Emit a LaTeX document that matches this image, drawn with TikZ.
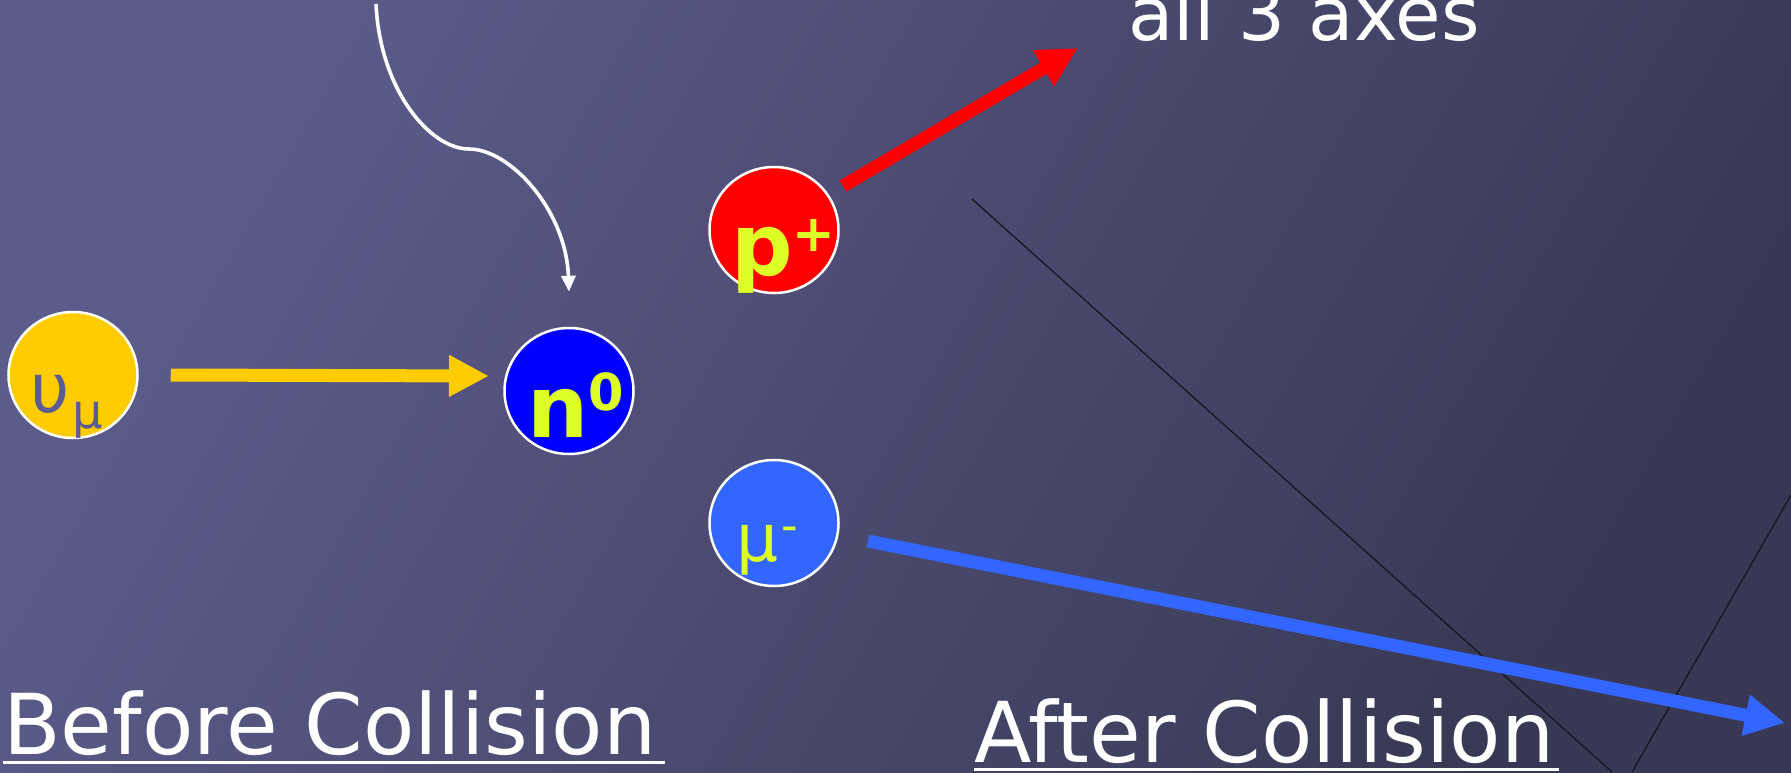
\documentclass[tikz,border=0pt]{standalone}
\usepackage{fontspec}
\setmainfont{DejaVu Sans}
\usetikzlibrary{shapes.geometric, arrows.meta, positioning}
\definecolor{slatebg}{RGB}{92,92,140}
\definecolor{slatedark}{RGB}{56,56,84}
\definecolor{nuyellow}{RGB}{255,204,0}
\definecolor{nblue}{RGB}{0,0,255}
\definecolor{pred}{RGB}{255,0,0}
\definecolor{mublue}{RGB}{51,102,255}
\definecolor{lime}{RGB}{221,255,38}
\definecolor{slatetxt}{RGB}{92,92,148}
\definecolor{latline}{RGB}{22,22,34}
\newcommand{\fsize}[1]{\fontsize{#1}{#1}\selectfont}
\tikzset{
  particle/.style = {ellipse, draw=white, line width=2.5pt,
                     minimum width=129pt, minimum height=126pt, inner sep=0pt},
  tag/.style      = {anchor=base west, inner sep=0pt, text=lime},
  beam/.style     = {line width=13pt, -{Triangle[length=40pt,width=39pt]}},
  caption/.style  = {anchor=base west, inner sep=0pt, text=white, font=\fsize{84}},
  underbar/.style = {draw=white, line width=3pt},
  latline/.style  = {draw=latline, line width=1.3pt},
}

\begin{document}
\begin{tikzpicture}[x=1pt, y=-1pt]

% ---------- backdrop ----------
\useasboundingbox (0,0) rectangle (1791,772);
\shade[top color=slatebg, bottom color=slatedark, shading angle=60] (0,0) rectangle (1791,772);
\draw[latline] (972,199) -- (1612,772);
\draw[latline] (1791,495) -- (1632,772);

% ---------- particles ----------
\node[particle, fill=nuyellow] (numu)    at (73,375)  {};
\node[particle, fill=nblue]    (nzero)   at (569,391) {};
\node[particle, fill=pred]     (pplus)   at (774,230) {};
\node[particle, fill=mublue]   (muminus) at (774,523) {};

\node[tag, text=slatetxt] (numutxt) at ([shift={(-43,37)}]numu.center)
  {\fsize{68}υ\kern3pt\raisebox{-16pt}{\fsize{48}μ}};
\node[tag] (nzerotxt) at ([shift={(-42,46)}]nzero.center)
  {\fsize{86}\bfseries n\raisebox{27pt}{\fsize{51}0}};
\node[tag] (pplustxt) at ([shift={(-43,45)}]pplus.center)
  {\fsize{86}\bfseries p\raisebox{24pt}{\fsize{51}+}};
\node[tag] (muminustxt) at ([shift={(-38,38)}]muminus.center)
  {\fsize{66}μ\kern3pt\raisebox{20pt}{\fsize{46}-}};

% ---------- captions ----------
\node[caption] (before) at (3,754) {Before Collision};
\node[caption] (after) at (974,762) {After Collision};
\node[caption, font=\fsize{74}] (axes) at (1128,40) {all 3 axes};
\draw[underbar] ([yshift=-8pt]before.base west) -- ([shift={(8,8)}]before.base east);
\draw[underbar] ([yshift=-7pt]after.base west) -- ([shift={(4,7)}]after.base east);

% ---------- tracks ----------
\coordinate (nuend) at (489,376);
\coordinate (pfar) at (1078,48);
\coordinate (mufar) at (1785,723);
\coordinate (inflow) at (376,4);
\coordinate (bend) at (469,149);

\draw[beam, draw=nuyellow] ([xshift=32pt]numu.east) -- (nuend);
\draw[beam, draw=pred] ([shift={(69,-44)}]pplus.center) -- (pfar);
\draw[beam, draw=mublue] ([shift={(94,18)}]muminus.center) -- (mufar);
\draw[white, line width=3.6pt, -{Triangle[length=16pt,width=14pt]}]
  (inflow) .. controls (380,90) and (430,149) .. (bend)
  .. controls (510,149) and (566,210) .. ([yshift=35pt]nzero.north);

\end{tikzpicture}
\end{document}
